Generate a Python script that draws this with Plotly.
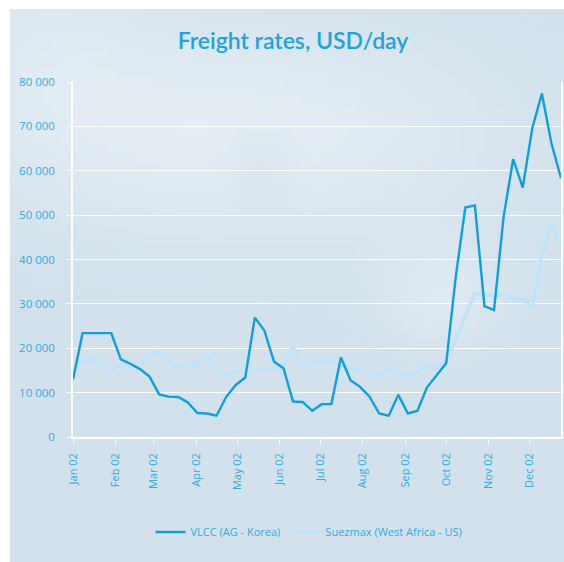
import zlib, struct, base64, math
import pandas as pd
import plotly.graph_objects as go

# ---- data (weekly, 2002) ----
weeks = pd.date_range("2002-01-01", periods=52, freq="7D")
vlcc = [13000, 23400, 23400, 23400, 23400, 17500, 16500, 15300, 13600, 9600,
        9100, 9000, 7800, 5400, 5300, 4800, 9000, 11700, 13400, 26900,
        24000, 17000, 15500, 8000, 7900, 5900, 7400, 7400, 17900, 12800,
        11300, 9100, 5300, 4800, 9500, 5300, 5900, 11200, 14000, 16600,
        36100, 51700, 52200, 29500, 28600, 49600, 62600, 56200, 69600, 77400,
        66200, 58300]
suezmax = [15000, 17000, 17500, 16400, 14700, 16200, 16200, 16300, 18500, 19000,
           17000, 15700, 16400, 16000, 18500, 16000, 13600, 14700, 14700, 15000,
           15100, 15500, 15600, 20500, 16100, 17000, 17100, 17000, 16000, 15700,
           15000, 14900, 13500, 15300, 14400, 13700, 14800, 16200, 15500, 17000,
           21900, 27100, 32400, 32200, 31600, 32200, 30900, 31100, 29100, 41400,
           47800, 43400]
month_ticks = pd.date_range("2002-01-01", periods=12, freq="MS")
y_ticks = [0, 10000, 20000, 30000, 40000, 50000, 60000, 70000, 80000]

TITLE = "Freight rates, USD/day"
NAME_V = "VLCC (AG - Korea)"
NAME_S = "Suezmax (West Africa - US)"

# ---- background gradient image (style only) ----
def make_png(w, h, fn):
    raw = b""
    for j in range(h):
        row = bytearray([0])
        for i in range(w):
            row += bytes(fn(i / (w - 1), j / (h - 1)))
        raw += bytes(row)
    def chunk(t, d):
        c = struct.pack(">I", len(d)) + t + d
        return c + struct.pack(">I", zlib.crc32(t + d) & 0xffffffff)
    return (b"\x89PNG\r\n\x1a\n" + chunk(b"IHDR", struct.pack(">IIBBBBB", w, h, 8, 2, 0, 0, 0))
            + chunk(b"IDAT", zlib.compress(raw, 9)) + chunk(b"IEND", b""))

dark = (210, 225, 236)
light = (238, 244, 249)
def bg(u, v):
    L = 0.7 * math.exp(-((u - 0.42) / 0.45) ** 2 - ((v - 0.22) / 0.20) ** 2)
    L += 0.45 * math.exp(-((u - 0.78) / 0.12) ** 2 - ((v - 0.52) / 0.10) ** 2)
    L += 0.35 * math.exp(-((u - 0.05) / 0.2) ** 2 - ((v - 0.05) / 0.2) ** 2)
    L -= 0.3 * math.exp(-((u - 0.45) / 0.06) ** 2 - ((v - 0.28) / 0.08) ** 2)
    L = max(0.0, min(1.0, L))
    return tuple(int(dark[k] + (light[k] - dark[k]) * L) for k in range(3))

img = "data:image/png;base64," + base64.b64encode(make_png(60, 60, bg)).decode()

W, H = 564, 562
ml, mr, mt, mb = 73, 3, 82, 125
pw, ph = W - ml - mr, H - mt - mb

fig = go.Figure()
fig.add_trace(go.Scatter(x=weeks, y=suezmax, mode="lines", name=NAME_S,
                         line=dict(color="#bfe3fb", width=3.5), legendrank=2))
fig.add_trace(go.Scatter(x=weeks, y=vlcc, mode="lines", name=NAME_V,
                         line=dict(color="#0aa0e2", width=2.4), legendrank=1))

tick_color = "#2aaee8"
fig.update_layout(
    width=W, height=H,
    margin=dict(l=ml, r=mr, t=mt, b=mb, autoexpand=False),
    paper_bgcolor="white", plot_bgcolor="rgba(0,0,0,0)",
    separators=". ",
    font=dict(family="Open Sans, Liberation Sans, sans-serif", color=tick_color, size=11),
    title=dict(text=TITLE, x=293 / W, xanchor="center", y=1 - 41 / H, yanchor="middle",
               font=dict(family="Lato, Open Sans, sans-serif", size=23, color="#19a4e6",
                         weight=600)),
    showlegend=True,
    legend=dict(orientation="h", x=(309 - ml) / pw, xanchor="center",
                y=(437 - 532) / ph, yanchor="middle",
                font=dict(size=11, color=tick_color), bgcolor="rgba(0,0,0,0)",
                itemwidth=30, tracegroupgap=0),
    images=[dict(source=img, xref="paper", yref="paper",
                 x=(10 - ml) / pw, y=(437 - 9) / ph,
                 sizex=(564 - 10) / pw, sizey=(562 - 9) / ph,
                 xanchor="left", yanchor="top", sizing="stretch", layer="below")],
)
fig.update_xaxes(range=[weeks[0], weeks[-1]], tickvals=month_ticks, tickformat="%b %y",
                 tickangle=-90, showgrid=False, showline=True, linecolor="white", linewidth=1.5,
                 ticks="outside", ticklen=5, tickcolor="white", mirror=False, zeroline=False,
                 ticklabelstandoff=5, tickfont=dict(size=11, color=tick_color))
fig.update_yaxes(range=[0, 80000], tickvals=y_ticks, tickformat=",d",
                 showgrid=True, gridcolor="white", gridwidth=1.2,
                 showline=True, linecolor="white", linewidth=1.5, mirror=True,
                 ticks="outside", ticklen=4, tickcolor="white", zeroline=False,
                 ticklabelstandoff=10, tickfont=dict(size=11.5, color=tick_color))

fig.write_html("out.html", config={"displayModeBar": False},
               post_script="document.body.style.margin='0';document.body.style.overflow='hidden';")
